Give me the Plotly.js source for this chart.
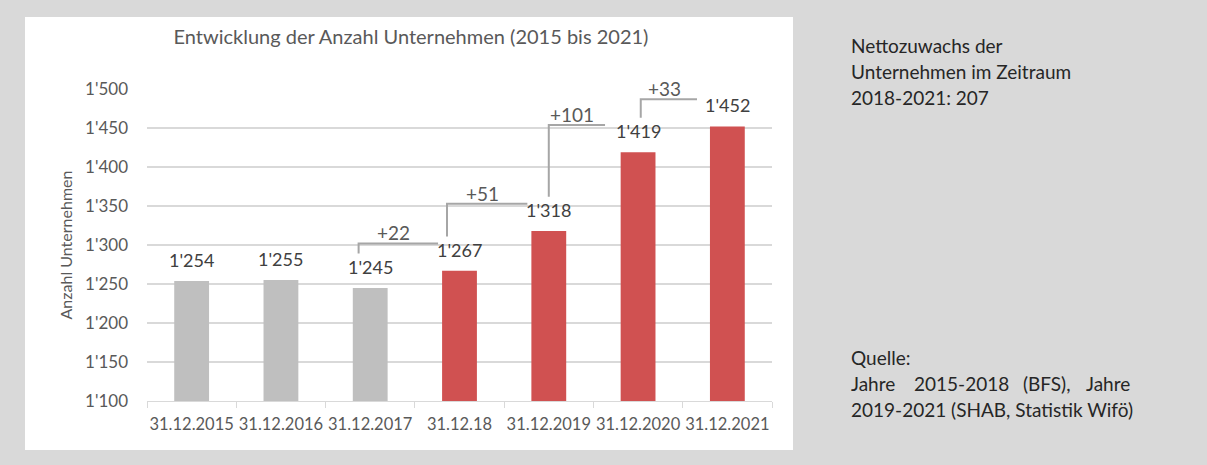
<!DOCTYPE html>
<html>
<head>
<meta charset="utf-8">
<script src="https://cdn.plot.ly/plotly-3.0.1.min.js"></script>
<style>
  html, body { margin: 0; padding: 0; background: #d9d9d9; }
  #chart { width: 1207px; height: 465px; }
</style>
</head>
<body>
<div id="chart"></div>
<script>
// ---- data ----
const categories = ["31.12.2015", "31.12.2016", "31.12.2017", "31.12.18", "31.12.2019", "31.12.2020", "31.12.2021"];
const values = [1254, 1255, 1245, 1267, 1318, 1419, 1452];
const isEstimate = [false, false, false, true, true, true, true]; // BFS (gray) vs. newer (red)
const yTicks = [1100, 1150, 1200, 1250, 1300, 1350, 1400, 1450, 1500];
const bracketFrom = [2, 3, 4, 5]; // growth brackets between category i and i+1
const titleText = "Entwicklung der Anzahl Unternehmen (2015 bis 2021)";
const yTitle = "Anzahl Unternehmen";
const noteLines = ["Nettozuwachs der", "Unternehmen im Zeitraum", "2018-2021: 207"];
const sourceHead = "Quelle:";
const sourceLine1Words = ["Jahre", "2015-2018", "(BFS),", "Jahre"];
const sourceLine2 = "2019-2021 (SHAB, Statistik Wifö)";

// ---- layout geometry (pixels) ----
const W = 1207, H = 465;
const M = { l: 147, r: 435, t: 89, b: 64 };
const PW = W - M.l - M.r, PH = H - M.t - M.b;
const px = x => (x - M.l) / PW;          // pixel -> paper x
const py = y => (H - M.b - y) / PH;      // pixel -> paper y

const FONT = "Lato, 'Open Sans', sans-serif";
const GRAY = "#bfbfbf", RED = "#d05151";
const fmt = v => String(v).replace(/\B(?=(\d{3})+(?!\d))/g, "'");

// bracket style offsets (per bracket, in category units)
const bracketXStart = [-0.13, -0.14, 0.0, 0.03];
const bracketXEnd = [-0.24, -0.24, -0.37, -0.34];

const trace = {
  type: "bar",
  x: categories,
  y: values,
  marker: { color: isEstimate.map(e => e ? RED : GRAY) },
  hoverinfo: "x+y",
  cliponaxis: false
};

const annotations = [];
const shapes = [];

// white chart card
shapes.push({
  type: "rect", xref: "paper", yref: "paper", layer: "below",
  x0: px(25), x1: px(793), y0: py(450), y1: py(17),
  fillcolor: "#ffffff", line: { width: 0 }
});

// value labels
values.forEach((v, i) => {
  annotations.push({
    x: categories[i], y: v, xref: "x", yref: "y",
    text: fmt(v), showarrow: false, yanchor: "bottom", yshift: 8,
    font: { family: FONT, size: 18, color: "#404040" }
  });
});

// growth brackets
bracketFrom.forEach((i, k) => {
  const d = values[i + 1] - values[i];
  const xs = i + bracketXStart[k];
  const xe = i + 1 + bracketXEnd[k];
  const yb = values[i] + 44;
  const yt = values[i + 1] + 35;
  shapes.push({
    type: "path", xref: "x", yref: "y",
    path: `M ${xs} ${yb} L ${xs} ${yt} L ${xe} ${yt}`,
    line: { color: "#a6a6a6", width: 2 }
  });
  annotations.push({
    x: (xs + xe) / 2 - 0.05, y: yt, xref: "x", yref: "y",
    text: "+" + d, showarrow: false, yanchor: "bottom", yshift: -3,
    font: { family: FONT, size: 19, color: "#595959" }
  });
});

// right-hand notes
const noteFont = { family: FONT, size: 19, color: "#262626" };
noteLines.forEach((t, j) => {
  annotations.push({
    x: px(849), y: py(45 + j * 26), xref: "paper", yref: "paper",
    text: t, showarrow: false, xanchor: "left", yanchor: "middle", font: noteFont
  });
});
annotations.push({
  x: px(849), y: py(357), xref: "paper", yref: "paper",
  text: sourceHead, showarrow: false, xanchor: "left", yanchor: "middle", font: noteFont
});
const wordX = [849, 912, 1021, 1132];
sourceLine1Words.forEach((w, j) => {
  annotations.push({
    x: px(wordX[j]), y: py(383), xref: "paper", yref: "paper",
    text: w, showarrow: false, xanchor: j === 3 ? "right" : "left", yanchor: "middle", font: noteFont
  });
});
annotations.push({
  x: px(849), y: py(409), xref: "paper", yref: "paper",
  text: sourceLine2, showarrow: false, xanchor: "left", yanchor: "middle", font: noteFont
});

const layout = {
  width: W, height: H,
  margin: M,
  paper_bgcolor: "#d9d9d9",
  plot_bgcolor: "rgba(0,0,0,0)",
  separators: ".'",
  showlegend: false,
  bargap: 0.61,
  font: { family: FONT, color: "#595959" },
  title: {
    text: titleText, xref: "container", yref: "container",
    x: 411 / W, y: 1 - 37 / H, xanchor: "center", yanchor: "middle",
    font: { family: FONT, size: 20, color: "#595959" }
  },
  xaxis: {
    type: "category",
    showgrid: false,
    showline: true, linecolor: "#d9d9d9", linewidth: 1,
    ticks: "outside", tickson: "boundaries", ticklen: 6, tickcolor: "#d9d9d9",
    tickangle: 0, ticklabelstandoff: 8,
    tickfont: { family: FONT, size: 16.5, color: "#595959" },
    fixedrange: true
  },
  yaxis: {
    range: [1100, 1500],
    tickvals: yTicks,
    ticktext: yTicks.map(fmt),
    showgrid: true, gridcolor: "#d9d9d9", gridwidth: 1.5,
    zeroline: false, showline: false,
    ticks: "", ticklabelstandoff: 18,
    tickfont: { family: FONT, size: 17, color: "#595959" },
    title: { text: yTitle, standoff: 8, font: { family: FONT, size: 16, color: "#595959" } },
    fixedrange: true
  },
  shapes: shapes,
  annotations: annotations
};

Plotly.newPlot("chart", [trace], layout, { displayModeBar: false, staticPlot: true });
</script>
</body>
</html>
